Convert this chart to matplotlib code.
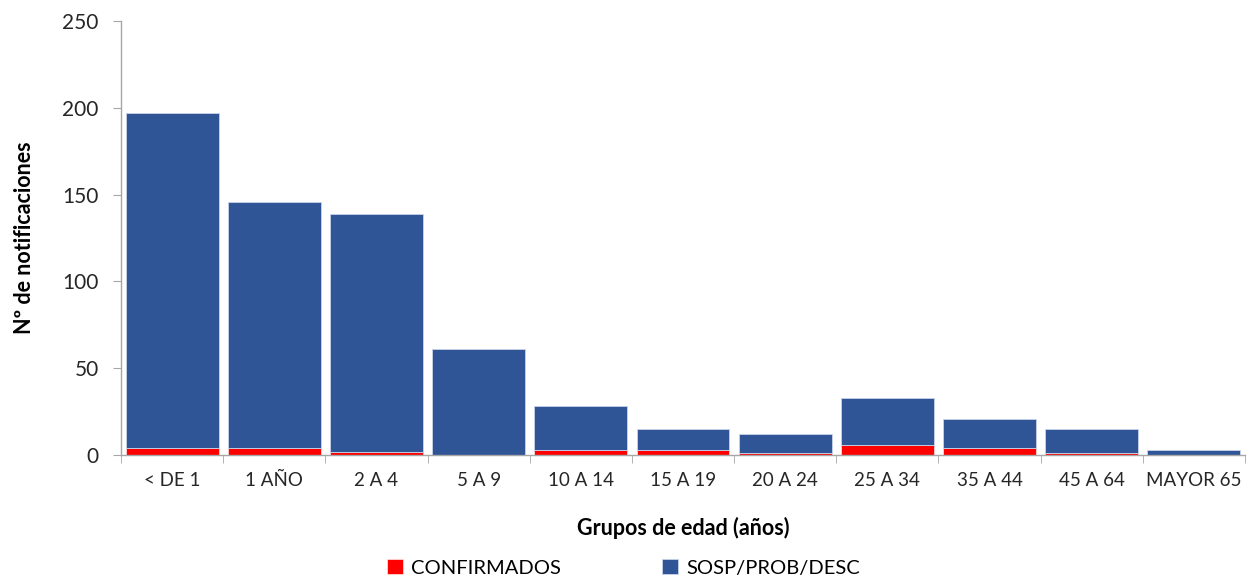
import numpy as np
import matplotlib
matplotlib.use('Agg')
from matplotlib import pyplot as plt

plt.rcParams['font.family'] = ['Lato', 'DejaVu Sans']

GROUPS = ['< DE 1', '1 AÑO', '2 A 4', '5 A 9', '10 A 14', '15 A 19',
          '20 A 24', '25 A 34', '35 A 44', '45 A 64', 'MAYOR 65']
TOTAL = [197, 146, 139, 61, 28, 15, 12, 33, 21, 15, 3]
CONFIRMADOS = [4, 4, 2, 0, 3, 3, 1, 6, 4, 1, 0]
SOSP = [t - c for t, c in zip(TOTAL, CONFIRMADOS)]

RED = '#FF0000'
BLUE = '#2F5597'
GRAY = '#A6A6A6'

fig = plt.figure(figsize=(12.47, 5.86), dpi=100)
ax = fig.add_axes([121 / 1247, 1 - 455 / 586, (1245 - 121) / 1247, (455 - 21) / 586])

x = np.arange(len(GROUPS))
ax.bar(x, CONFIRMADOS, width=0.91, color=RED, edgecolor='white', linewidth=0.4,
       label='CONFIRMADOS')
ax.bar(x, SOSP, bottom=CONFIRMADOS, width=0.91, color=BLUE, edgecolor='#C9D3E8',
       linewidth=0.6, label='SOSP/PROB/DESC')

ax.set_xlim(-0.5, len(GROUPS) - 0.5)
ax.set_ylim(0, 250)
ax.set_yticks(range(0, 251, 50))

for s in ['top', 'right']:
    ax.spines[s].set_visible(False)
for s in ['left', 'bottom']:
    ax.spines[s].set_color(GRAY)
    ax.spines[s].set_linewidth(1.0)

ax.set_xticks(x)
ax.set_xticklabels(GROUPS, fontsize=13.5, color='#262626')
ax.tick_params(axis='x', length=0, pad=12)
ax.set_xticks(np.arange(-0.5, len(GROUPS)), minor=True)
ax.tick_params(axis='x', which='minor', length=6, color=GRAY, direction='out')
ax.tick_params(axis='y', labelsize=15, colors='#262626', length=6, color=GRAY, pad=10)

ax.set_ylabel('Nº de notificaciones', fontsize=15.5, fontweight='bold', labelpad=20)
ax.set_xlabel('Grupos de edad (años)', fontsize=15.5, fontweight='bold', labelpad=20)

ax.legend(loc='upper center', bbox_to_anchor=(0.447, -0.23), ncol=2, frameon=False,
          fontsize=14.5, handlelength=0.8, handleheight=0.8, handletextpad=0.4,
          columnspacing=5.0, borderaxespad=0, borderpad=0.2)

fig.savefig('out.png', dpi=100)
